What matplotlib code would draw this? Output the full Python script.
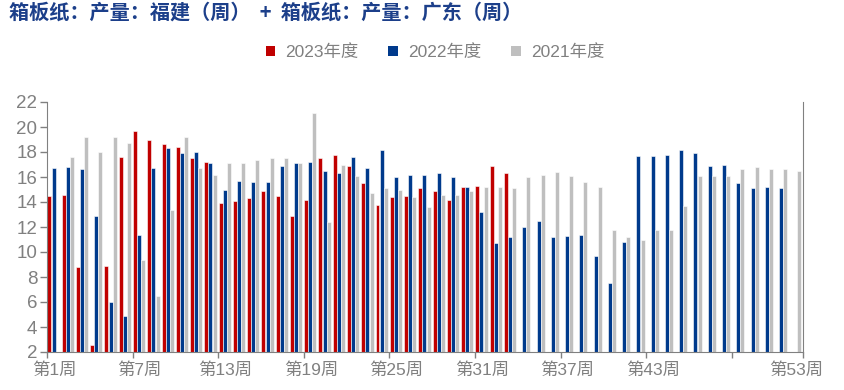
import matplotlib
matplotlib.use('Agg')
import matplotlib.pyplot as plt
from matplotlib.patches import Patch
import numpy as np

nan = np.nan

weeks = list(range(1, 54))
tick_labels = ['第1周', '第7周', '第13周', '第19周', '第25周', '第31周', '第37周', '第43周', '第53周']
tick_weeks = [1, 7, 13, 19, 25, 31, 37, 43, 53]
boundary_weeks = [1, 7, 13, 19, 25, 31, 37, 43, 49]

y2023 = [14.5, 14.6, 8.8, 2.6, 8.9, 17.6, 19.7, 19.0, 18.6, 18.4, 17.5, 17.2, 13.9, 14.1, 14.3, 14.9, 14.5,
         12.9, 14.2, 17.5, 17.8, 16.9, 15.5, 13.8, 14.4, 14.5, 15.1, 14.9, 14.2, 15.2, 15.3, 16.9, 16.3] + [nan] * 20
y2022 = [16.7, 16.8, 16.6, 12.9, 6.0, 4.9, 11.4, 16.7, 18.3, 17.9, 18.0, 17.1, 15.0, 15.7, 15.6, 15.6, 16.9,
         17.1, 17.2, 16.5, 16.3, 17.6, 16.7, 18.2, 16.0, 16.2, 16.2, 16.3, 16.0, 15.2, 13.2, 10.7, 11.2, 12.0,
         12.5, 11.2, 11.3, 11.4, 9.7, 7.5, 10.8, 17.7, 17.7, 17.8, 18.2, 17.9, 16.9, 17.0, 15.5, 15.1, 15.2,
         15.1, nan]
y2021 = [nan, 17.6, 19.2, 18.0, 19.2, 18.7, 9.4, 6.5, 13.4, 19.2, 16.7, 16.2, 17.1, 17.1, 17.4, 17.5, 17.5,
         17.1, 21.1, 12.4, 17.0, 16.1, 14.7, 15.1, 15.0, 14.4, 13.6, 14.6, 14.6, 14.9, 15.2, 15.2, 15.1, 16.0,
         16.2, 16.4, 16.1, 15.6, 15.2, 11.8, 11.2, 11.0, 11.8, 11.8, 13.7, 16.1, 16.1, 16.1, 16.6, 16.8, 16.6,
         16.6, 16.5]

series = [('2023年度', y2023, '#C00000'), ('2022年度', y2022, '#003A8C'), ('2021年度', y2021, '#BFBFBF')]

plt.rcParams['font.family'] = ['Liberation Sans', 'Noto Sans CJK SC']
grey = '#808080'

fig = plt.figure(figsize=(8.45, 3.9), dpi=100)
ax = fig.add_axes([47 / 845, 38 / 390, 756 / 845, 250 / 390])

# each week takes the band [k-1, k]
x = np.array(weeks) - 1
offsets = [0.03, 0.32, 0.61]
for (name, vals, col), off in zip(series, offsets):
    ax.bar(x + off, vals, width=0.28, align='edge', color=col, edgecolor='white', linewidth=0.4)

ax.set_xlim(0, 53)
ax.set_ylim(2, 22)
ax.set_yticks(range(2, 23, 2))

# ticks on band edges, labels on band centres
ax.set_xticks([w - 1 for w in boundary_weeks] + [53])
ax.set_xticklabels([])
ax.set_xticks([w - 0.5 for w in tick_weeks], minor=True)
ax.set_xticklabels(tick_labels, minor=True)
ax.tick_params(axis='x', which='major', length=4, color=grey, width=1)
ax.tick_params(axis='x', which='minor', length=0, pad=7, labelsize=12.5, labelcolor=grey)
ax.tick_params(axis='y', length=5, color=grey, width=1, pad=2, labelsize=13.5, labelcolor=grey)

for s in ['left', 'bottom', 'right']:
    ax.spines[s].set_color(grey)
ax.spines['top'].set_visible(False)

fig.text(9 / 845, 1 - 12 / 390, '箱板纸：产量：福建（周）  +  箱板纸：产量：广东（周）',
         family=['Noto Sans CJK SC'], fontweight='bold', fontsize=14.5, color='#1C3F8A',
         ha='left', va='center')

handles = [Patch(facecolor=c, edgecolor='none') for _, _, c in series]
fig.legend(handles, [n for n, _, _ in series], loc='center', ncol=3,
           bbox_to_anchor=(435 / 845, 1 - 52 / 390), frameon=False,
           fontsize=12.5, labelcolor=grey, handlelength=0.55, handleheight=0.55,
           handletextpad=0.6, columnspacing=1.7)

fig.savefig('out.png', dpi=100)
